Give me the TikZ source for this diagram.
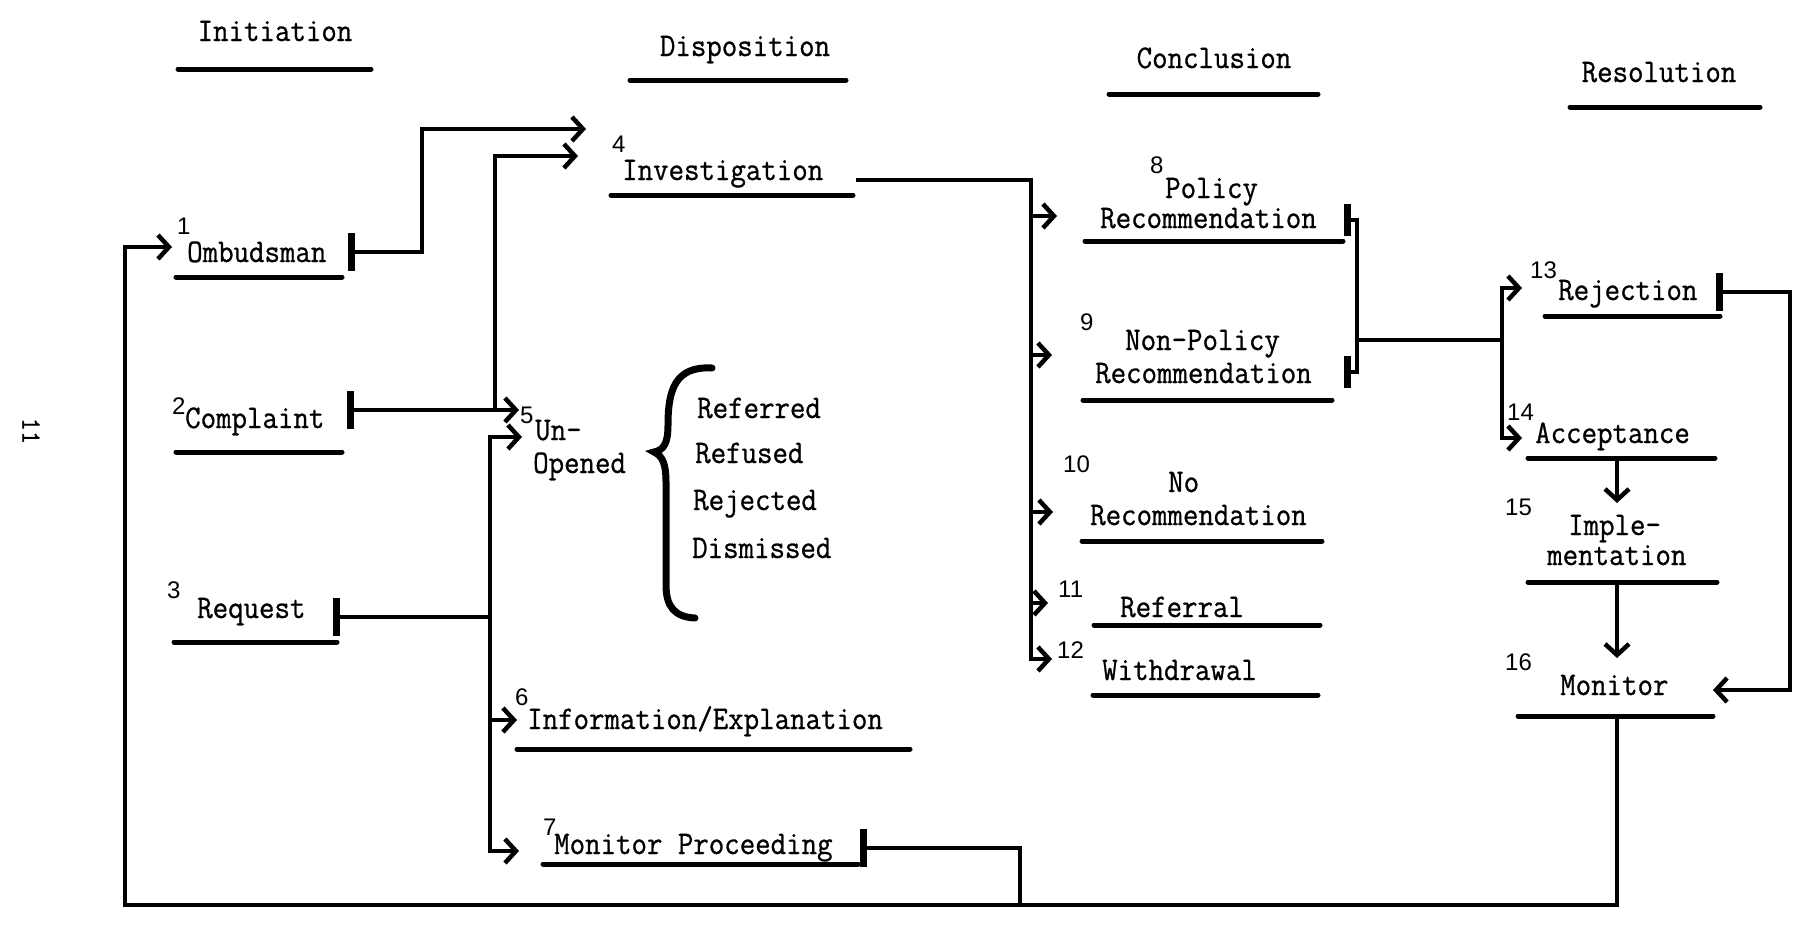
\documentclass[tikz,border=0pt]{standalone}
\usepackage{fontspec}
\usetikzlibrary{arrows.meta}
\newfontfamily\numf{Liberation Sans}
\newfontfamily\tw{Latin Modern Mono}[FakeStretch=0.91, FakeBold=0.8]
\begin{document}
\begin{tikzpicture}[x=1pt,y=-1pt,
  tx/.style={font=\tw\fontsize{33}{36}\selectfont, inner sep=0pt, anchor=base west},
  hd/.style={font=\tw\fontsize{33}{36}\selectfont, inner sep=0pt, anchor=base},
  nm/.style={font=\numf\fontsize{24}{26}\selectfont, inner sep=0pt, anchor=base west},
  ul/.style={line width=5pt, line cap=round},
  con/.style={line width=4.5pt},
  arr/.style={con, -{Straight Barb[length=11pt,width=24pt]}},
  bcon/.style={con, {Bar[width=38pt,line width=7pt]}-},
  barr/.style={con, {Bar[width=38pt,line width=7pt]}-{Straight Barb[length=11pt,width=24pt]}},
  bbcon/.style={con, {Bar[width=32pt,line width=7pt]}-{Bar[width=32pt,line width=7pt]}}
]
\useasboundingbox (0,0) rectangle (1802,927);

% page number
\node[font=\tw\fontsize{28}{28}\selectfont, rotate=-90, inner sep=0pt] (pg) at (31,431) {11};

% headers
\node[hd] (hI) at (275,41) {Initiation};
\node[hd] (hD) at (745,56) {Disposition};
\node[hd] (hC) at (1214,68) {Conclusion};
\node[hd] (hR) at (1659,82) {Resolution};
\draw[ul] (178,69) -- (371,69);
\draw[ul] (630,80) -- (846,80);
\draw[ul] (1109,94) -- (1318,94);
\draw[ul] (1570,107) -- (1760,107);

% Initiation
\node[nm] (n1) at (177,234) {1};
\node[tx] (t1) at (187,262) {Ombudsman};
\draw[ul] (176,277) -- (342,277);
\node[nm] (n2) at (172,414) {2};
\node[tx] (t2) at (185,428) {Complaint};
\draw[ul] (176,452) -- (342,452);
\node[nm] (n3) at (167,598) {3};
\node[tx] (t3) at (197,618) {Request};
\draw[ul] (174,642) -- (337,642);

% Disposition
\node[nm] (n4) at (612,152) {4};
\node[tx] (t4) at (622,180) {Investigation};
\draw[ul] (611,195) -- (853,195);
\node[nm] (n5) at (520,423) {5};
\node[tx] (t5a) at (535,440) {Un-};
\node[tx] (t5b) at (533,473) {Opened};
\draw[line width=7pt, line cap=round] (712,368) .. controls (675,366) and (668,390) .. (668,425)
  .. controls (668,443) and (664,450) .. (654,452)
  .. controls (663,456) and (666,465) .. (666,482) -- (666,585)
  .. controls (666,607) and (675,617) .. (695,618);
\node[tx] (u1) at (697,418) {Referred};
\node[tx] (u2) at (695,463) {Refused};
\node[tx] (u3) at (693,510) {Rejected};
\node[tx] (u4) at (692,558) {Dismissed};
\node[nm] (n6) at (515,705) {6};
\node[tx] (t6) at (527,729) {Information/Explanation};
\draw[ul] (517,749) -- (910,749);
\node[nm] (n7) at (543,835) {7};
\node[tx] (t7) at (554,854) {Monitor Proceeding};
\draw[ul] (543,864) -- (858,864);

% Conclusion
\node[nm] (n8) at (1150,173) {8};
\node[tx] (t8a) at (1165,198) {Policy};
\node[tx] (t8b) at (1100,228) {Recommendation};
\draw[ul] (1085,241) -- (1343,241);
\node[nm] (n9) at (1080,330) {9};
\node[tx] (t9a) at (1125,350) {Non-Policy};
\node[tx] (t9b) at (1095,383) {Recommendation};
\draw[ul] (1083,400) -- (1332,400);
\node[nm] (n10) at (1063,472) {10};
\node[tx] (t10a) at (1168,492) {No};
\node[tx] (t10b) at (1090,525) {Recommendation};
\draw[ul] (1082,541) -- (1322,541);
\node[nm] (n11) at (1058,597) {11};
\node[tx] (t11) at (1120,617) {Referral};
\draw[ul] (1094,625) -- (1320,625);
\node[nm] (n12) at (1057,658) {12};
\node[tx] (t12) at (1102,680) {Withdrawal};
\draw[ul] (1093,695) -- (1318,695);

% Resolution
\node[nm] (n13) at (1530,278) {13};
\node[tx] (t13) at (1558,300) {Rejection};
\draw[ul] (1545,316) -- (1720,316);
\node[nm] (n14) at (1507,420) {14};
\node[tx] (t14) at (1535,443) {Acceptance};
\draw[ul] (1528,458) -- (1715,458);
\node[nm] (n15) at (1505,515) {15};
\node[tx] (t15a) at (1568,535) {Imple-};
\node[tx] (t15b) at (1547,565) {mentation};
\draw[ul] (1528,582) -- (1717,582);
\node[nm] (n16) at (1505,670) {16};
\node[tx] (t16) at (1560,695) {Monitor};
\draw[ul] (1518,716) -- (1713,716);

% connector coordinates
\coordinate (b1) at (348,252); \coordinate (j1) at (422,252);
\coordinate (j1t) at (422,129); \coordinate (a4a) at (586,129);
\coordinate (b2) at (347,410); \coordinate (j2) at (495,410);
\coordinate (a5a) at (519,410); \coordinate (j2t) at (495,156); \coordinate (a4b) at (578,156);
\coordinate (b3) at (333,617); \coordinate (j3) at (490,617);
\coordinate (j3t) at (490,437); \coordinate (a5b) at (522,437);
\coordinate (j6) at (490,720); \coordinate (a6) at (517,720);
\coordinate (j7) at (490,851); \coordinate (a7) at (519,851);
\coordinate (b7) at (860,848); \coordinate (j8) at (1020,848); \coordinate (j8b) at (1020,905);
\coordinate (s4) at (856,180); \coordinate (k0) at (1031,180);
\coordinate (k1) at (1031,216); \coordinate (c8) at (1057,216);
\coordinate (k2) at (1031,355); \coordinate (c9) at (1052,355);
\coordinate (k3) at (1031,512); \coordinate (c10) at (1053,512);
\coordinate (k4) at (1031,603); \coordinate (c11) at (1048,603);
\coordinate (k5) at (1031,659); \coordinate (c12) at (1052,659);
\coordinate (b8) at (1344,220); \coordinate (q1) at (1357,220);
\coordinate (b9) at (1344,372); \coordinate (q2) at (1357,372);
\coordinate (q3) at (1357,340); \coordinate (r0) at (1502,340);
\coordinate (r1) at (1502,288); \coordinate (d13) at (1522,288);
\coordinate (r2) at (1502,438); \coordinate (d14) at (1522,438);
\coordinate (b13) at (1716,292); \coordinate (m1) at (1790,292);
\coordinate (m2) at (1790,690); \coordinate (d16) at (1713,690);
\coordinate (u14) at (1617,458); \coordinate (e15) at (1617,503);
\coordinate (u15) at (1617,582); \coordinate (e16) at (1617,658);
\coordinate (u16) at (1617,716); \coordinate (z1) at (1617,905);
\coordinate (z0) at (125,905); \coordinate (z2) at (125,247); \coordinate (e1) at (172,247);

% connectors
\draw[barr] (b1) -- (j1) -- (j1t) -- (a4a);
\draw[barr] (b2) -- (j2) -- (a5a);
\draw[arr] (j2) -- (j2t) -- (a4b);
\draw[bcon] (b3) -- (j3);
\draw[arr] (j3) -- (j3t) -- (a5b);
\draw[arr] (j3) -- (j7) -- (a7);
\draw[arr] (j6) -- (a6);
\draw[bcon] (b7) -- (j8) -- (j8b);
\draw[arr] (s4) -- (k0) -- (k5) -- (c12);
\draw[arr] (k1) -- (c8);
\draw[arr] (k2) -- (c9);
\draw[arr] (k3) -- (c10);
\draw[arr] (k4) -- (c11);
\draw[bbcon] (b8) -- (q1) -- (q2) -- (b9);
\draw[con] (q3) -- (r0);
\draw[arr] (r0) -- (r1) -- (d13);
\draw[arr] (r0) -- (r2) -- (d14);
\draw[barr] (b13) -- (m1) -- (m2) -- (d16);
\draw[arr] (u14) -- (e15);
\draw[arr] (u15) -- (e16);
\draw[arr] (u16) -- (z1) -- (z0) -- (z2) -- (e1);
\end{tikzpicture}
\end{document}
